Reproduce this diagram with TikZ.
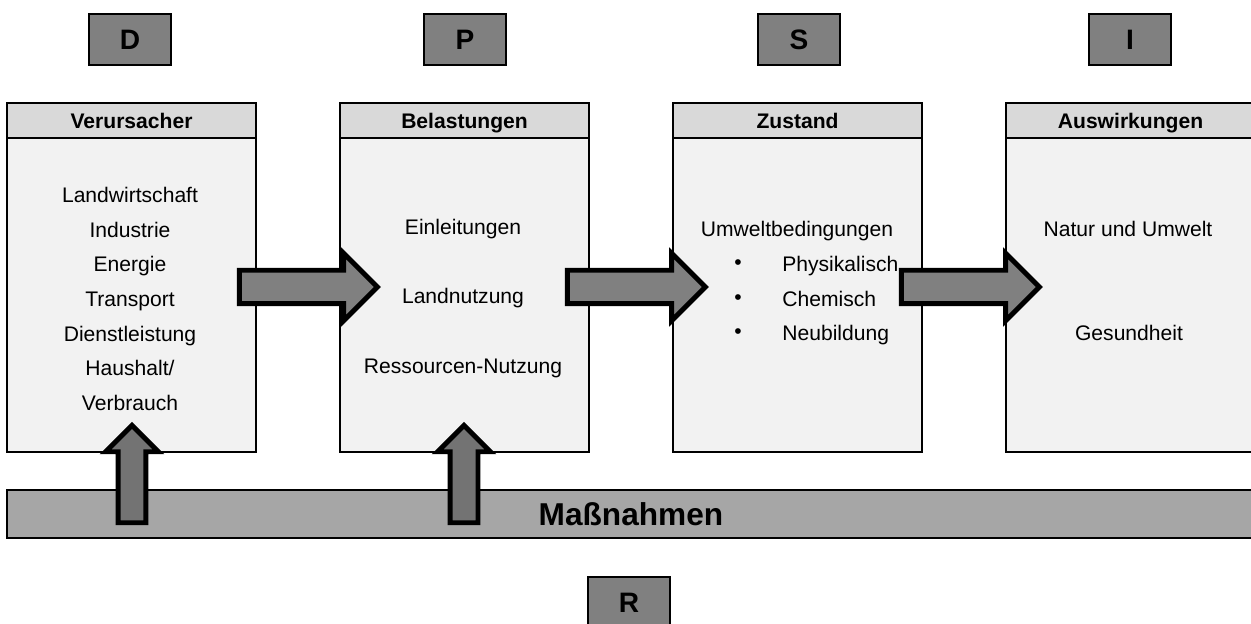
\documentclass[tikz,border=0pt]{standalone}
\usepackage{fontspec}
\setmainfont{Liberation Sans}
\usetikzlibrary{shapes.arrows}

\definecolor{headgray}{HTML}{D9D9D9}
\definecolor{bodygray}{HTML}{F2F2F2}
\definecolor{lettergray}{HTML}{808080}
\definecolor{bargray}{HTML}{A6A6A6}
\definecolor{arrowgray}{HTML}{808080}

\begin{document}
\begin{tikzpicture}[x=0.02cm,y=-0.02cm,
    letterbox/.style={draw, line width=1.2pt, fill=lettergray, minimum width=1.64cm, minimum height=1.02cm, inner sep=0pt, text height=11.5pt, text depth=0pt, font=\fontsize{16}{19}\selectfont\bfseries},
    panel/.style={draw, line width=1.2pt, fill=bodygray, anchor=north west, minimum width=4.98cm, minimum height=6.98cm, inner sep=0pt},
    panelhead/.style={draw, line width=1.2pt, fill=headgray, anchor=north west, minimum width=4.98cm, minimum height=0.70cm, inner sep=0pt, text height=8.6pt, text depth=0pt, font=\fontsize{12}{14}\selectfont\bfseries},
    flowarrow/.style={single arrow, draw, line width=2.8pt, fill=arrowgray, inner sep=0.285cm, minimum height=2.76cm, single arrow head extend=0.34cm, single arrow tip angle=90},
    uparrow/.style={single arrow, draw, line width=2.8pt, fill=arrowgray!110, inner sep=0.23cm, minimum height=1.95cm, single arrow head extend=0.25cm, single arrow tip angle=90, shape border rotate=90},
    txt/.style={font=\fontsize{12}{14}\selectfont, inner sep=0pt, text height=8.6pt, text depth=0pt}]
    \useasboundingbox (0,0) rectangle (1251,624);
    \clip (0,0) rectangle (1251,624);

    % DPSIR letters
    \node (d) [letterbox] at (130,39.5) {D};
    \node (p) [letterbox] at (465,39.5) {P};
    \node (s) [letterbox] at (799,39.5) {S};
    \node (i) [letterbox] at (1130,39.5) {I};
    \node (r) [letterbox] at (629,602.5) {R};

    % Panels
    \node (verur) [panel] at (6,102) {};
    \node (belast) [panel] at (339,102) {};
    \node (zust) [panel] at (672,102) {};
    \node (ausw) [panel] at (1005,102) {};
    \node [panelhead] at (verur.north west) {Verursacher};
    \node [panelhead] at (belast.north west) {Belastungen};
    \node [panelhead] at (zust.north west) {Zustand};
    \node [panelhead] at (ausw.north west) {Auswirkungen};

    % Measures
    \node (mass) [draw, line width=1.2pt, fill=bargray, anchor=north west, minimum width=24.96cm, minimum height=0.96cm, inner sep=0pt,
        text height=12.9pt, text depth=0pt, font=\fontsize{18}{21}\selectfont\bfseries] at (6,489) {Maßnahmen};

    % Panel texts
    \node [txt, align=center, text height=, text depth=, font=\fontsize{12}{19.75}\selectfont] at (130,299)
        {Landwirtschaft\\Industrie\\Energie\\Transport\\Dienstleistung\\Haushalt/\\Verbrauch};
    \node [txt, align=center, text height=, text depth=, font=\fontsize{12}{39.5}\selectfont] at (463,298.5)
        {Einleitungen\\Landnutzung\\Ressourcen-Nutzung};
    \node [txt] at (797,229) {Umweltbedingungen};
    \foreach \item/\y in {Physikalisch/264, Chemisch/299, Neubildung/333} {
        \node [txt, text height=6pt] at (738,\y) {\textbullet};
        \node [txt, anchor=west] at (782,\y) {\item};
    }
    \node [txt] at (1128,229) {Natur und Umwelt};
    \node [txt] at (1129,333) {Gesundheit};

    % Arrows
    \node (up1) [uparrow] at (132,481) {};
    \node (up2) [uparrow] at (464,481) {};
    \node (a1) [flowarrow] at (300,287) {};
    \node (a2) [flowarrow] at (628,287) {};
    \node (a3) [flowarrow] at (962,287) {};
\end{tikzpicture}
\end{document}
